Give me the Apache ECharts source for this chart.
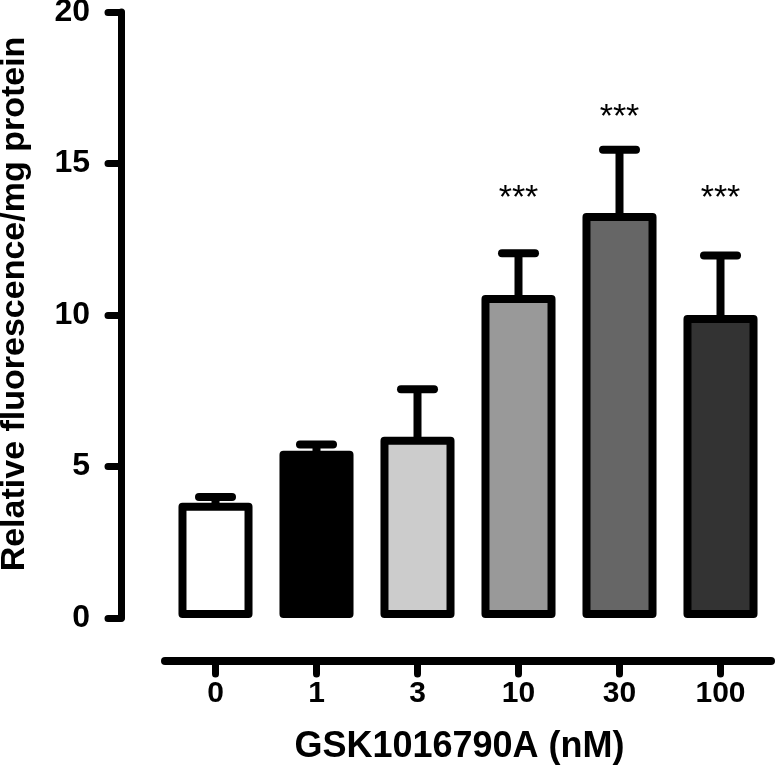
<!DOCTYPE html>
<html>
<head>
<meta charset="utf-8">
<script src="https://cdn.jsdelivr.net/npm/echarts@6/dist/echarts.min.js"></script>
<style>
html,body{margin:0;padding:0;background:#fff;}
#c{width:776px;height:768px;}
</style>
</head>
<body>
<div id="c"></div>
<script>
// ---- data ----
var categories = ['0', '1', '3', '10', '30', '100'];
var means      = [3.80, 5.52, 5.98, 10.66, 13.37, 10.00];
var sem        = [0.19, 0.21, 1.57, 1.38, 2.08, 1.96];
var fills      = ['#ffffff', '#000000', '#cccccc', '#999999', '#666666', '#333333'];
var starLabels = ['', '', '', '***', '***', '***'];
var starPos    = [0, 0, 0, 13.85, 16.5, 13.85];
var yTicks     = [0, 5, 10, 15, 20];
var xTitle = 'GSK1016790A (nM)';
var yTitle = 'Relative fluorescence/mg protein';

var FONT = '"Liberation Sans", Arial, Helvetica, sans-serif';
var chart = echarts.init(document.getElementById('c'), null, {renderer: 'canvas'});

var barData = categories.map(function (c, i) { return [i, means[i]]; });
var errData = categories.map(function (c, i) { return [i, means[i], means[i] + sem[i]]; });
var starData = categories.map(function (c, i) { return [i, starPos[i], starLabels[i]]; });

var BW = 8;
chart.setOption({
  backgroundColor: '#ffffff',
  animation: false,
  grid: {left: 165, right: 5, top: 12, bottom: 150, containLabel: false, outerBoundsMode: 'none'},
  xAxis: {
    type: 'category',
    data: categories,
    offset: 43,
    axisLine: {show: true, onZero: false, lineStyle: {color: '#000', width: 8, cap: 'round'}},
    axisTick: {show: true, alignWithLabel: true, length: 13, lineStyle: {color: '#000', width: 7, cap: 'round'}},
    axisLabel: {color: '#000', fontSize: 30, fontWeight: 'bold', fontFamily: FONT, margin: 18},
    splitLine: {show: false},
    name: xTitle,
    nameLocation: 'middle',
    nameGap: 68,
    nameTextStyle: {color: '#000', fontSize: 36, fontWeight: 'bold', fontFamily: FONT, padding: [0, 17, 0, 0]}
  },
  yAxis: {
    type: 'value',
    min: yTicks[0],
    max: yTicks[yTicks.length - 1],
    interval: 5,
    offset: 44,
    axisLine: {show: true, onZero: false, lineStyle: {color: '#000', width: 7, cap: 'round'}},
    axisTick: {show: true, length: 13, lineStyle: {color: '#000', width: 7, cap: 'round'}},
    axisLabel: {color: '#000', fontSize: 32, fontWeight: 'bold', fontFamily: FONT, margin: 31},
    splitLine: {show: false},
    name: yTitle,
    nameLocation: 'middle',
    nameGap: 89,
    nameTextStyle: {color: '#000', fontSize: 34, fontWeight: 'bold', fontFamily: FONT, padding: [0, 0, 0, 22]}
  },
  series: [
    {
      type: 'custom',
      name: 'errors',
      data: errData,
      z: 1,
      renderItem: function (params, api) {
        var i = api.value(0);
        var top = api.coord([i, api.value(1)]);
        var hi = api.coord([i, api.value(2)]);
        var cx = top[0];
        return {
          type: 'group',
          children: [
            {type: 'line', shape: {x1: cx, y1: top[1] + 4, x2: cx, y2: hi[1]},
             style: {stroke: '#000', lineWidth: 8, lineCap: 'butt'}},
            {type: 'line', shape: {x1: cx - 16.5, y1: hi[1], x2: cx + 16.5, y2: hi[1]},
             style: {stroke: '#000', lineWidth: 8, lineCap: 'round'}}
          ]
        };
      }
    },
    {
      type: 'custom',
      name: 'bars',
      data: barData,
      z: 2,
      renderItem: function (params, api) {
        var i = api.value(0);
        var top = api.coord([i, api.value(1)]);
        var base = api.coord([i, 0]);
        var band = api.size([1, 0])[0];
        var w = band * 0.733;
        var x0 = top[0] - w / 2 + BW / 2;
        return {
          type: 'rect',
          shape: {x: x0, y: top[1] + BW / 2, width: w - BW, height: base[1] - top[1] - BW},
          style: {fill: fills[i], stroke: '#000', lineWidth: BW, lineJoin: 'round'}
        };
      }
    },
    {
      type: 'custom',
      name: 'stars',
      data: starData,
      z: 3,
      renderItem: function (params, api) {
        var i = api.value(0);
        var p = api.coord([i, api.value(1)]);
        return {
          type: 'text',
          style: {x: p[0], y: p[1], text: starLabels[i], fill: '#000',
                  font: '34px ' + FONT, align: 'center', verticalAlign: 'middle'}
        };
      }
    }
  ]
});
</script>
</body>
</html>
